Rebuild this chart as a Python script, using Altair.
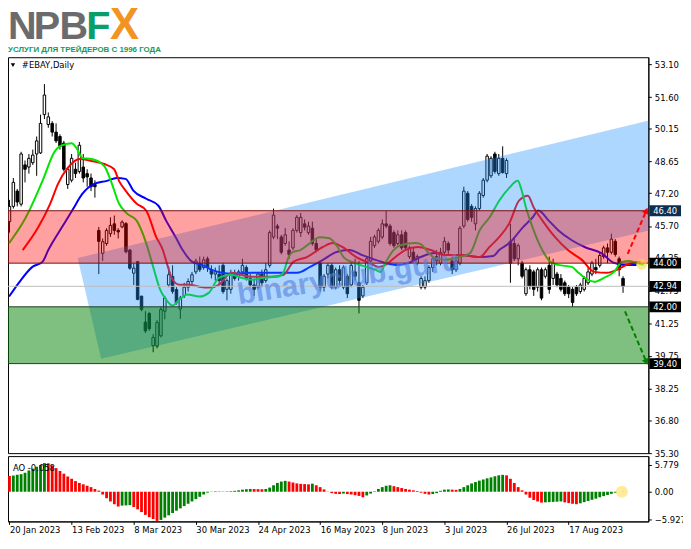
import pandas as pd
import altair as alt

# --- Bougies journalières #EBAY (index de barre, 0 = 20 Jan 2023) ---
opens = [45.9, 46.6, 47.3, 46.7, 48.5, 48.4, 48.6, 49.0, 49.05, 50.8,
         50.35, 50.4, 50.0, 49.8, 49.5, 47.6, 47.8, 48.3, 48.2, 48.4,
         48.1, 47.9, 47.6, 45.5, 44.45, 44.9, 45.35, 45.8, 45.5, 45.66,
         45.81, 44.6, 43.54, 44.07, 42.49, 41.3, 41.7, 40.22, 40.2, 40.67,
         41.8, 43.0, 43.39, 42.79, 41.9, 42.5, 42.9, 43.16, 43.6, 44.0,
         43.8, 44.2, 43.7, 43.5, 43.5, 43.9, 42.8, 42.8, 43.5, 43.4,
         43.6, 43.8, 43.3, 43.0, 42.9, 43.5, 43.2, 43.9, 45.2, 45.7,
         45.2, 44.9, 44.6, 44.7, 45.5, 45.4, 45.8, 45.4, 45.6, 44.9,
         44.0, 42.9, 43.5, 43.9, 42.9, 43.7, 42.9, 43.4, 43.0, 43.6,
         43.1, 42.5, 43.1, 44.1, 44.8, 45.0, 45.2, 45.8, 45.7, 45.4,
         44.9, 45.3, 45.4, 44.3, 44.5, 44.0, 42.9, 42.9, 43.2, 43.8,
         44.3, 44.0, 44.5, 44.9, 44.1, 43.7, 44.0, 45.7, 47.2, 46.6,
         45.8, 46.5, 47.1, 47.8, 48.0, 49.0, 48.1, 48.8, 48.1, 45.0,
         44.9, 44.2, 44.0, 42.6, 43.7, 43.6, 42.9, 43.7, 43.4, 43.9,
         43.3, 43.5, 43.3, 43.1, 42.9, 42.8, 42.9, 42.7, 42.8, 43.1,
         43.5, 43.8, 43.9, 44.3, 44.7, 44.5, 45.0, 44.2, 43.3]
highs = [46.9, 47.9, 47.4, 49.1, 48.7, 49.0, 49.2, 49.8, 50.8, 52.2,
         50.9, 50.5, 50.4, 49.9, 49.6, 48.4, 49.0, 48.6, 49.55, 49.0,
         48.3, 48.1, 47.8, 45.66, 45.13, 45.6, 46.1, 46.18, 45.6, 45.96,
         45.88, 44.65, 44.0, 44.1, 42.5, 41.8, 41.75, 40.75, 41.4, 42.0,
         42.5, 43.85, 43.9, 42.9, 42.5, 43.1, 43.3, 43.6, 44.2, 44.3,
         44.3, 44.3, 43.9, 43.8, 43.9, 44.0, 43.3, 43.7, 43.7, 43.7,
         44.2, 43.9, 43.5, 43.3, 43.6, 43.7, 44.0, 45.5, 46.5, 45.8,
         45.3, 45.6, 45.0, 45.6, 46.2, 46.3, 46.0, 45.9, 45.9, 45.1,
         44.1, 43.5, 44.0, 44.0, 43.8, 43.9, 43.9, 43.5, 44.1, 44.2,
         44.1, 43.0, 44.3, 45.2, 45.3, 45.6, 46.0, 46.4, 45.8, 45.5,
         45.5, 45.5, 45.5, 44.8, 44.7, 44.4, 43.4, 43.4, 43.9, 44.3,
         44.6, 44.7, 45.2, 45.0, 44.3, 44.3, 45.7, 47.5, 47.3, 46.7,
         46.6, 47.3, 47.9, 49.0, 48.9, 49.1, 49.0, 49.35, 48.8, 45.8,
         45.2, 44.9, 44.1, 43.8, 43.9, 43.7, 43.8, 43.8, 43.8, 44.3,
         44.2, 43.6, 43.5, 43.2, 43.0, 42.9, 43.0, 43.1, 43.4, 43.8,
         44.1, 44.2, 44.5, 44.8, 44.9, 45.35, 45.1, 44.3, 43.4]
lows = [45.4, 46.5, 46.6, 46.6, 47.7, 48.1, 48.5, 48.0, 49.0, 50.6,
        50.2, 49.8, 49.5, 49.2, 48.2, 47.4, 47.7, 47.9, 48.1, 47.7,
        47.5, 47.3, 47.0, 43.5, 44.1, 44.8, 45.2, 45.3, 45.13, 45.6,
        44.45, 43.7, 43.0, 42.3, 41.8, 40.8, 40.9, 39.92, 40.1, 40.6,
        41.43, 42.9, 42.6, 42.1, 41.45, 42.4, 42.7, 43.0, 43.5, 43.6,
        43.7, 43.6, 43.3, 43.2, 43.0, 42.6, 42.3, 42.6, 43.2, 43.2,
        43.5, 43.2, 42.9, 42.5, 42.8, 42.9, 43.1, 43.8, 45.1, 45.1,
        44.4, 44.8, 44.2, 44.6, 45.4, 45.2, 45.5, 45.3, 44.8, 44.5,
        42.7, 42.7, 43.3, 42.8, 42.8, 43.0, 42.8, 42.4, 42.9, 43.2,
        41.7, 42.4, 43.0, 44.0, 44.7, 44.9, 45.1, 45.6, 44.8, 44.7,
        44.8, 44.6, 44.6, 44.2, 44.0, 43.9, 42.8, 42.8, 43.1, 43.6,
        43.9, 43.9, 44.4, 44.4, 43.5, 43.6, 43.9, 45.6, 45.9, 45.9,
        45.5, 46.4, 47.0, 47.7, 47.9, 48.1, 48.0, 48.1, 47.9, 43.1,
        44.1, 43.9, 43.3, 42.5, 42.8, 42.5, 42.7, 42.3, 43.3, 42.6,
        43.0, 42.9, 42.7, 42.5, 42.4, 42.0, 42.5, 42.6, 42.7, 43.0,
        43.4, 43.5, 43.8, 44.2, 44.0, 44.4, 44.3, 43.4, 42.64]
closes = [46.6, 47.7, 46.8, 49.0, 48.3, 48.8, 48.95, 49.6, 50.4, 51.7,
          50.7, 50.0, 49.6, 49.35, 48.3, 48.3, 48.8, 48.1, 49.4, 47.9,
          47.95, 47.5, 47.5, 45.0, 44.98, 45.5, 45.73, 45.5, 45.43, 45.88,
          44.52, 43.77, 43.77, 42.34, 41.88, 40.9, 41.0, 40.6, 41.28, 41.88,
          42.4, 43.47, 42.71, 42.18, 42.4, 42.9, 43.16, 43.47, 44.1, 43.7,
          44.15, 43.8, 43.5, 43.6, 43.2, 42.7, 43.2, 43.5, 43.3, 43.6,
          43.9, 43.3, 43.0, 42.8, 43.5, 43.1, 43.7, 45.4, 46.2, 45.6,
          44.5, 45.3, 44.4, 45.5, 46.1, 46.1, 45.65, 45.7, 44.9, 44.6,
          42.9, 43.4, 43.9, 42.9, 43.7, 43.2, 43.8, 42.6, 43.9, 43.4,
          42.3, 42.9, 44.2, 45.0, 45.2, 45.5, 45.8, 45.7, 44.9, 44.8,
          45.3, 44.7, 44.7, 44.7, 44.1, 44.3, 43.3, 43.2, 43.8, 44.2,
          44.1, 44.5, 45.0, 44.6, 43.7, 44.1, 45.6, 47.3, 46.0, 46.1,
          46.5, 47.2, 47.8, 48.9, 48.8, 48.2, 48.8, 48.15, 48.7, 44.0,
          44.2, 44.8, 43.4, 43.7, 42.95, 42.8, 43.7, 42.4, 43.7, 42.8,
          44.0, 43.0, 42.8, 42.6, 42.6, 42.2, 42.6, 43.0, 43.3, 43.6,
          44.0, 43.7, 44.35, 44.7, 44.5, 45.1, 44.4, 43.7, 42.94]

# --- Alligator : mâchoire (bleu), dents (rouge), lèvres (vert) ---
jaw_i = [-0.1, 2.4, 5.9, 8.5, 10.0, 11.0, 13.5, 16.3, 18.8, 21.8, 25.1, 27.6, 29.9, 31.9,
         35.2, 38.3, 40.3, 42.8, 44.6, 47.1, 49.6, 52.1, 54.7, 57.2, 62.2, 66.5, 74.1, 77.4,
         80.7, 84.2, 87.5, 90.8, 94.3, 99.4, 102.7, 105.9, 109.5, 112.8, 116.0, 121.1, 124.6,
         126.1, 128.7, 132.2, 134.7, 136.2, 138.8, 141.3, 144.8, 148.1, 152.4, 155.7, 158.2, 161.5]
jaw_p = [42.47, 43.10, 43.83, 44.06, 44.60, 44.92, 45.64, 46.46, 47.18, 47.63, 47.77, 47.90,
         47.86, 47.32, 46.95, 46.64, 45.96, 45.19, 44.60, 44.06, 43.92, 43.69, 43.56, 43.51,
         43.56, 43.56, 43.56, 43.83, 44.15, 44.51, 44.60, 44.37, 44.15, 43.92, 44.01, 44.28,
         44.46, 44.37, 44.37, 44.28, 44.33, 44.60, 44.92, 45.64, 46.09, 46.41, 45.96, 45.51,
         45.05, 44.74, 44.46, 44.01, 43.92, 43.92]
teeth_i = [3.4, 7.4, 10.5, 12.5, 15.0, 18.1, 21.1, 24.4, 26.9, 28.2, 29.9, 32.7, 35.2, 37.8,
           39.5, 40.8, 42.0, 43.8, 46.3, 48.9, 51.4, 53.9, 57.2, 62.2, 67.3, 70.6, 73.1, 76.6,
           80.7, 83.2, 85.7, 89.3, 92.6, 95.1, 96.8, 99.4, 101.9, 105.2, 108.5, 112.0, 116.0,
           121.1, 123.6, 126.1, 128.7, 131.2, 133.5, 135.0, 137.2, 140.5, 143.8, 147.4, 150.6,
           153.9, 156.4, 158.9, 162.5]
teeth_p = [44.60, 45.64, 46.73, 47.63, 48.36, 48.77, 48.68, 48.54, 48.31, 47.77, 47.32, 46.73,
           46.41, 45.19, 44.60, 43.83, 43.24, 43.01, 43.01, 42.92, 42.88, 43.01, 43.56, 43.38,
           43.38, 43.47, 44.06, 44.28, 44.74, 44.92, 44.74, 44.28, 44.01, 43.83, 43.92, 44.28,
           44.60, 44.74, 44.60, 44.37, 44.37, 44.28, 44.74, 45.19, 45.82, 46.86, 47.09, 46.55,
           45.96, 45.19, 44.60, 44.15, 43.60, 43.56, 43.69, 43.92, 44.06]
lips_i = [-0.1, 4.2, 8.5, 11.7, 13.0, 16.0, 17.3, 18.8, 21.1, 24.4, 26.1, 28.2, 30.2, 32.7,
          35.2, 37.0, 38.8, 40.3, 42.0, 43.8, 45.8, 48.9, 51.4, 53.9, 57.2, 59.7, 62.2, 65.5,
          69.1, 70.6, 71.8, 72.9, 74.9, 77.4, 79.9, 82.4, 84.5, 86.2, 88.8, 91.8, 94.3, 95.6,
          96.8, 98.9, 100.9, 104.4, 105.9, 107.7, 109.5, 112.0, 116.0, 118.6, 121.1, 123.6,
          126.1, 128.7, 130.9, 131.7, 133.0, 134.7, 137.2, 139.3, 141.3, 144.8, 146.3, 148.1,
          150.6, 153.1, 155.7, 157.7, 159.5, 161.5, 163.3]
lips_p = [44.92, 46.09, 47.77, 49.13, 49.36, 49.49, 49.26, 48.81, 48.77, 48.45, 47.77, 46.73,
          46.28, 45.96, 44.92, 43.83, 42.79, 42.34, 42.06, 42.34, 42.56, 42.47, 42.65, 43.33,
          43.47, 43.33, 43.24, 43.33, 43.38, 43.60, 44.24, 44.51, 44.60, 44.92, 45.19, 45.14,
          44.74, 44.24, 44.01, 43.83, 43.69, 43.60, 44.01, 44.60, 44.83, 44.92, 44.87, 44.51,
          44.24, 44.15, 44.28, 44.46, 45.51, 46.09, 46.86, 47.45, 47.77, 47.45, 46.55, 45.64,
          44.60, 44.06, 43.92, 43.83, 43.60, 43.33, 43.15, 43.33, 43.60, 44.06, 44.10, 44.01, 43.92]

# --- Awesome Oscillator ---
ao = [3.4, 3.5, 3.65, 3.8, 4.1, 4.6, 5.0, 5.4, 5.8, 6.2,
      6.15, 5.7, 5.1, 4.5, 3.9, 3.3, 2.8, 2.3, 1.9, 1.6, 1.3, 1.0, 0.6, 0.25,
      -0.6, -1.4, -2.1, -2.7, -3.2,
      -3.0, -2.95, -2.9,
      -3.3, -3.8, -4.4, -5.0, -5.5, -5.9, -6.3,
      -6.1, -5.6, -5.1, -4.6, -4.1, -3.6, -3.1, -2.6, -2.1, -1.6, -1.1, -0.6, -0.2,
      0.05, 0.1, 0.08, 0.06, 0.08, 0.12, 0.2, 0.3,
      0.45, 0.55, 0.6, 0.58, 0.56, 0.55, 0.6,
      0.9, 1.4, 1.9, 2.2, 2.35,
      2.2, 2.0, 1.8, 1.7, 1.65, 1.6,
      1.75,
      1.4, 1.0, 0.5, 0.05,
      -0.3, -0.45, -0.5, -0.4, -0.5, -0.6, -0.75, -0.9, -1.2,
      -0.8, -0.4, 0.1, 0.6,
      1.0, 1.3, 1.4,
      1.2, 1.0, 0.8, 0.6, 0.45, 0.3, 0.15,
      -0.2, -0.45, -0.6, -0.5, -0.3,
      0.2, 0.45, 0.5, 0.45, 0.4, 0.6,
      1.0, 1.4, 1.8, 2.1, 2.4, 2.65, 2.9, 3.1, 3.35, 3.55, 3.65,
      3.55, 2.8, 1.9, 1.0, 0.3,
      -0.6, -1.3, -1.8, -2.1, -2.35,
      -2.3, -2.25, -2.2, -2.15, -2.1,
      -2.3, -2.45, -2.6, -2.7,
      -2.5, -2.25, -2.0, -1.75, -1.5, -1.2, -0.95, -0.7, -0.45, -0.2, 0.0,
      0.06]

# --- Niveaux, canal, flèches ---
red_zone = [44.00, 46.40]
green_zone = [39.40, 42.00]
last_price = 42.94
channel_i = [17.55, 23.6, 172.6]
channel_top = [44.24, 44.49, 50.87]
channel_bot = [44.24, 39.62, 45.83]
arrow_up_i = [159.2, 164.0]
arrow_up_p = [44.42, 46.41]
arrow_dn_i = [158.5, 164.0]
arrow_dn_p = [41.79, 39.48]

price_ticks = [53.10, 51.60, 50.15, 48.65, 47.20, 45.70, 44.25, 42.75, 41.25, 39.75, 38.25, 36.80, 35.30]
ao_ticks = [5.779, 0.0, -5.927]
date_pos = [0, 16, 32, 48, 64, 80, 96, 112, 128, 144]
date_labels = ["20 Jan 2023", "13 Feb 2023", "8 Mar 2023", "30 Mar 2023", "24 Apr 2023",
               "16 May 2023", "8 Jun 2023", "3 Jul 2023", "26 Jul 2023", "17 Aug 2023"]

# --- Échelles et axes ---
W, H, H_AO, GAP = 647, 400, 66, 3
FONT = "DejaVu Sans"
xs = alt.Scale(domain=[-0.38, 164.52], nice=False, zero=False)
ys = alt.Scale(domain=[35.30, 53.43], nice=False, zero=False)
aos = alt.Scale(domain=[-6.42, 7.705], nice=False, zero=False)

yax = alt.Axis(orient="right", values=price_ticks, format=".2f", title=None, grid=False,
               tickSize=3, labelPadding=3, labelFont=FONT, labelFontSize=8.5,
               labelColor="black", tickColor="black", domainColor="black")


def X(f):
    return alt.X(f, scale=xs, axis=None)


def Y(f):
    return alt.Y(f, scale=ys, axis=yax)


one = alt.InlineData(values=[{"k": 0}])

# --- Bougies ---
candles = pd.DataFrame({"i": range(len(opens)), "o": opens, "h": highs, "l": lows, "c": closes})
wicks = alt.Chart(candles).mark_rule(color="black", strokeWidth=1).encode(
    x=X("i:Q"), y=Y("l:Q"), y2="h:Q")
bodies = alt.Chart(candles).transform_calculate(
    x1="datum.i - 0.32", x2="datum.i + 0.32"
).mark_rect(stroke="black", strokeWidth=1).encode(
    x=X("x1:Q"), x2="x2:Q", y=Y("o:Q"), y2="c:Q",
    fill=alt.condition("datum.c >= datum.o", alt.value("white"), alt.value("black")))


def ma(i, p, color):
    return alt.Chart(pd.DataFrame({"i": i, "p": p})).mark_line(
        color=color, strokeWidth=2, interpolate="monotone"
    ).encode(x=X("i:Q"), y=Y("p:Q"))


jaw = ma(jaw_i, jaw_p, "#0000FF")
teeth = ma(teeth_i, teeth_p, "#FF0000")
lips = ma(lips_i, lips_p, "#00E600")

# --- Zones (canal coupé au cadre du graphique) ---
channel = alt.Chart(pd.DataFrame({"i": channel_i, "top": channel_top, "bot": channel_bot})).mark_area(
    color="#1E90FF", opacity=0.36, clip=True).encode(x=X("i:Q"), y=Y("top:Q"), y2="bot:Q")
red_rect = alt.Chart(pd.DataFrame({"lo": [red_zone[0]], "hi": [red_zone[1]]})).mark_rect(
    color="#FF0000", opacity=0.37).encode(x=alt.value(0), x2=alt.value("width"), y=Y("lo:Q"), y2="hi:Q")
green_rect = alt.Chart(pd.DataFrame({"lo": [green_zone[0]], "hi": [green_zone[1]]})).mark_rect(
    color="#008000", opacity=0.5).encode(x=alt.value(0), x2=alt.value("width"), y=Y("lo:Q"), y2="hi:Q")
red_lines = alt.Chart(pd.DataFrame({"v": red_zone})).mark_rule(color="#7A1010", strokeWidth=1).encode(
    x=alt.value(0), x2=alt.value("width"), y=Y("v:Q"))
green_lines = alt.Chart(pd.DataFrame({"v": green_zone})).mark_rule(color="#1E3F1E", strokeWidth=1).encode(
    x=alt.value(0), x2=alt.value("width"), y=Y("v:Q"))
price_line = alt.Chart(pd.DataFrame({"v": [last_price]})).mark_rule(color="#BDBDBD", strokeWidth=1).encode(
    x=alt.value(0), x2=alt.value("width"), y=Y("v:Q"))

watermark = alt.Chart(one).mark_text(
    text="binaryclub.guru", font="Liberation Sans", fontWeight="bold", fontSize=30,
    color="#5580DD", opacity=0.6, angle=351, align="center", baseline="middle"
).encode(x=alt.value(344), y=alt.value(223))

# --- Flèches ---
up = pd.DataFrame({"x": [arrow_up_i[0]], "x2": [arrow_up_i[1]], "y": [arrow_up_p[0]], "y2": [arrow_up_p[1]]})
dn = pd.DataFrame({"x": [arrow_dn_i[0]], "x2": [arrow_dn_i[1]], "y": [arrow_dn_p[0]], "y2": [arrow_dn_p[1]]})
up_line = alt.Chart(up).mark_rule(color="#FF0000", strokeWidth=2, strokeDash=[5, 3]).encode(
    x=X("x:Q"), x2="x2:Q", y=Y("y:Q"), y2="y2:Q")
dn_line = alt.Chart(dn).mark_rule(color="#008000", strokeWidth=2, strokeDash=[5, 3]).encode(
    x=X("x:Q"), x2="x2:Q", y=Y("y:Q"), y2="y2:Q")
up_head = alt.Chart(up).mark_point(shape="triangle-up", filled=True, size=50, color="#FF0000",
                                   opacity=1, angle=23).encode(x=X("x2:Q"), y=Y("y2:Q"))
dn_head = alt.Chart(dn).mark_point(shape="triangle-up", filled=True, size=50, color="#008000",
                                   opacity=1, angle=157).encode(x=X("x2:Q"), y=Y("y2:Q"))
glow = alt.Chart(pd.DataFrame({"i": [162.8], "p": [43.95]})).mark_circle(
    size=120, color="#FFD740", opacity=0.6).encode(x=X("i:Q"), y=Y("p:Q"))

# --- Étiquettes de prix à droite ---
tags = pd.DataFrame({"v": [red_zone[1], red_zone[0], last_price, green_zone[1], green_zone[0]]})
box_path = "M-1,-0.34L1,-0.34L1,0.34L-1,0.34Z"
tag_box = alt.Chart(tags).mark_point(shape=box_path, size=1024, filled=True, opacity=1, strokeWidth=0).encode(
    x=alt.value(W + 17), y=Y("v:Q"),
    color=alt.condition("datum.v == 46.4", alt.value("#0D2F4F"), alt.value("black")))
tag_text = alt.Chart(tags).mark_text(color="white", font=FONT, fontSize=8.5, align="center",
                                     baseline="middle").encode(
    x=alt.value(W + 17), y=Y("v:Q"), text=alt.Text("v:Q", format=".2f"))

# --- Titre et logo ---
sym_tri = alt.Chart(one).mark_point(shape="triangle-down", filled=True, size=20, color="black",
                                    opacity=1).encode(x=alt.value(5), y=alt.value(8))
sym_txt = alt.Chart(one).mark_text(text="#EBAY,Daily", font=FONT, fontSize=8.5, color="black",
                                   align="left", baseline="middle").encode(x=alt.value(14), y=alt.value(8))

logo = []
for letter, lx, col, fs in [("N", 0, "#6B6B6E", 40), ("P", 26, "#6B6B6E", 40),
                            ("B", 52, "#6B6B6E", 40), ("F", 79, "#0A9E6A", 40),
                            ("X", 103, "#F39322", 44)]:
    logo.append(alt.Chart(one).mark_text(
        text=letter, font="Liberation Sans", fontWeight="bold", fontSize=fs, color=col,
        align="left", baseline="alphabetic").encode(x=alt.value(lx), y=alt.value(-18)))
logo.append(alt.Chart(one).mark_text(
    text="УСЛУГИ ДЛЯ ТРЕЙДЕРОВ С 1996 ГОДА", font="Liberation Sans",
    fontWeight="bold", fontSize=8, color="#139A5B", align="left", baseline="alphabetic"
).encode(x=alt.value(0), y=alt.value(-5)))

top = alt.layer(
    wicks, bodies, jaw, teeth, lips,
    channel, red_rect, green_rect, red_lines, green_lines, price_line,
    watermark, up_line, dn_line, up_head, dn_head, glow,
    tag_box, tag_text, sym_tri, sym_txt, *logo
).properties(width=W, height=H)

# --- Panneau AO ---
date_expr = "[" + ",".join("'%s'" % d for d in date_labels) + "][round(datum.value / 16)]"
xax = alt.Axis(values=date_pos, labelExpr=date_expr, labelAlign="left", labelFlush=False,
               labelOverlap=False, tickSize=3, labelPadding=1, grid=False, title=None,
               labelFont=FONT, labelFontSize=8.5, labelColor="black", tickColor="black",
               domainColor="black")
aoax = alt.Axis(orient="right", values=ao_ticks,
                labelExpr="datum.value == 0 ? '0.00' : format(datum.value, '.3f')",
                title=None, grid=False, tickSize=3, labelPadding=3, labelFont=FONT,
                labelFontSize=8.5, labelColor="black", tickColor="black", domainColor="black")

aodf = pd.DataFrame({"i": range(len(ao)), "ao": ao})
ao_bars = alt.Chart(aodf).transform_window(
    prev="lag(ao)", sort=[alt.SortField("i")]
).transform_calculate(
    x1="datum.i - 0.36", x2="datum.i + 0.36"
).mark_rect().encode(
    x=alt.X("x1:Q", scale=xs, axis=xax), x2="x2:Q",
    y=alt.Y("ao:Q", scale=aos, axis=aoax), y2=alt.datum(0),
    color=alt.condition("datum.prev != null && datum.ao > datum.prev",
                        alt.value("#008000"), alt.value("#FF0000")))
ao_glow = alt.Chart(pd.DataFrame({"i": [157.7], "v": [0.0]})).mark_circle(
    size=150, color="#FFE066", opacity=0.65).encode(
    x=alt.X("i:Q", scale=xs, axis=xax), y=alt.Y("v:Q", scale=aos, axis=aoax))
ao_txt = alt.Chart(one).mark_text(text="AO -0.058", font=FONT, fontSize=8.5, color="black",
                                  align="left", baseline="middle").encode(x=alt.value(5), y=alt.value(12))

bottom = alt.layer(ao_bars, ao_glow, ao_txt).properties(width=W, height=H_AO)

# --- Composition : page fixe de 682 x 530 px ---
# (en mode "none", la largeur vaut W + marges, la hauteur vaut les seules marges)
PAD_TOP = 47
chart = alt.vconcat(top, bottom, spacing=GAP, bounds="flush").properties(
    autosize=alt.AutoSizeParams(type="none"),
    padding={"left": 0, "top": PAD_TOP, "right": 682 - W, "bottom": 530 - PAD_TOP}
).configure_view(stroke="black", strokeWidth=1)

chart.save("out.html", embed_options={"renderer": "svg", "actions": False})
